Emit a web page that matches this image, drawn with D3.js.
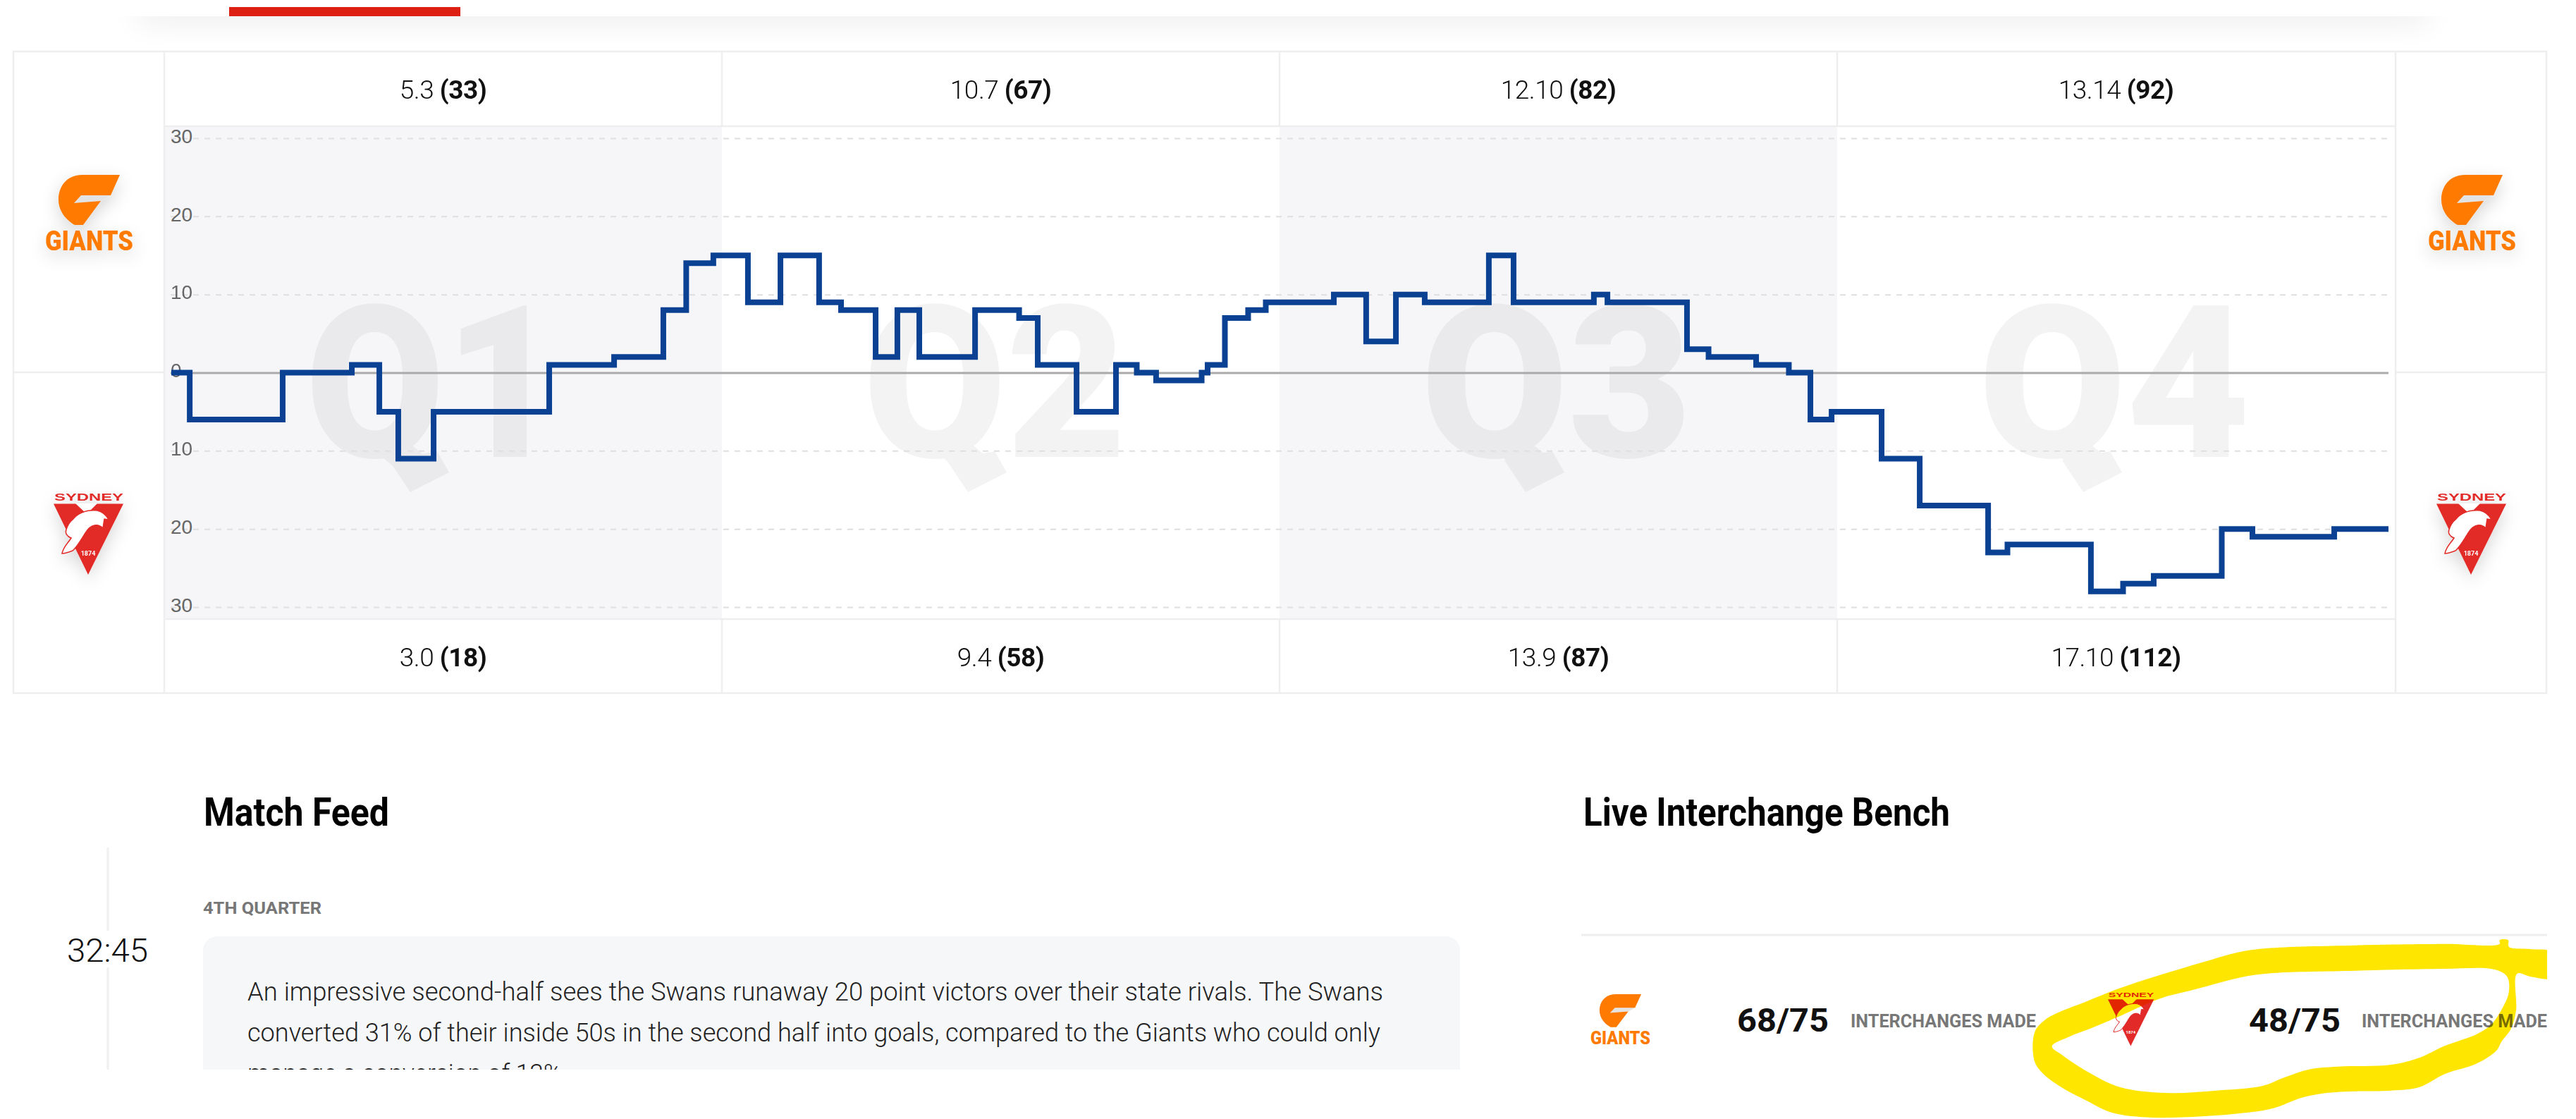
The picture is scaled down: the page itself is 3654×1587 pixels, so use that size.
<!DOCTYPE html>
<html>
<head>
<meta charset="utf-8">
<script src="https://cdn.jsdelivr.net/npm/d3@7"></script>
<style>
  html, body { margin: 0; background: #fff; }
  svg { display: block; }
  text { font-family: Roboto, "Open Sans", sans-serif; }
</style>
</head>
<body>
<div id="chart"></div>
<script>
const FWIDTH = 3654,
    FHEIGHT = 1587;

// minutes on a 30 min per quarter axis, margin from that moment on (+ Giants, - Swans)
const times = [0.38, 1.37, 6.37, 10.09, 11.57, 12.59, 14.49, 20.71, 24.2, 26.85, 28.08, 29.54, 31.4, 33.15,
    35.23, 36.41, 38.27, 39.44, 40.62, 43.62, 45.99, 46.99, 49.08, 51.2, 52.32, 53.36, 55.81, 56.13, 57.06,
    58.31, 59.26, 62.92, 64.66, 66.26, 67.81, 71.26, 72.59, 76.91, 77.64, 81.92, 83.08, 85.64, 87.4, 88.56,
    89.7, 92.39, 94.44, 98.12, 99.16, 103.65, 105.38, 107.03, 110.69, 112.34, 116.74, 119.66];
const margins = [0, -6, 0, 1, -5, -11, -5, 1, 2, 8, 14, 15, 9, 15,
    9, 8, 2, 8, 2, 8, 7, 1, -5, 1, 0, -1, 0, 1, 7,
    8, 9, 10, 4, 10, 9, 15, 9, 10, 9, 3, 2, 1, 0, -6,
    -5, -11, -17, -23, -22, -28, -27, -26, -20, -21, -20, -20];
const quarters = ["Q1", "Q2", "Q3", "Q4"];
const giantsGoals = ["5.3", "10.7", "12.10", "13.14"];
const giantsScores = ["(33)", "(67)", "(82)", "(92)"];
const swansGoals = ["3.0", "9.4", "13.9", "17.10"];
const swansScores = ["(18)", "(58)", "(87)", "(112)"];
const yTicks = [30, 20, 10, 0, -10, -20, -30];
const feedLines = [
    "An impressive second-half sees the Swans runaway 20 point victors over their state rivals. The Swans",
    "converted 31% of their inside 50s in the second half into goals, compared to the Giants who could only",
    "manage a conversion of 13%"
];

// highlighter scribble, traced in a 1568 wide crop of the bottom right corner
const scribbleOuter = [[1500, 92], [1440, 78], [1380, 68], [1378, 40], [1354, 40], [1354, 56], [1200, 56], [950, 62],
    [700, 75], [620, 92], [520, 135], [400, 190], [280, 250], [190, 305], [130, 340], [80, 380], [52, 430], [50, 550],
    [70, 600], [120, 660], [200, 725], [270, 775], [380, 795], [520, 790], [640, 775], [720, 755], [800, 710], [870, 690],
    [950, 683], [1050, 680], [1130, 665], [1200, 610], [1290, 565], [1345, 510], [1360, 470], [1385, 420], [1400, 340],
    [1403, 183], [1440, 195], [1500, 200]];
const scribbleInner = [[100, 492], [150, 450], [210, 415], [280, 370], [400, 290], [500, 250], [640, 195], [720, 180],
    [950, 170], [1200, 162], [1340, 165], [1375, 195], [1380, 260], [1365, 320], [1330, 400], [1290, 440], [1200, 490],
    [1130, 540], [1050, 570], [900, 578], [820, 590], [750, 625], [690, 660], [560, 680], [420, 690], [290, 665],
    [200, 600], [130, 530]];

const x = d3.scaleLinear().domain([0, 120]).range([233, 3397]);
const y = d3.scaleLinear().domain([30, -30]).range([196, 861]);
const scribbleX = d3.scaleLinear().domain([0, 1568]).range([2860, 3654]);
const scribbleY = d3.scaleLinear().domain([0, 801]).range([1320, 1587]);

const LINE_COL = "#eeeeee",
    GREY_TEXT = "#777777",
    ORANGE = "#ff7a00",
    RED = "#e22a28";

const svg = d3.select("#chart").append("svg")
    .attr("width", FWIDTH)
    .attr("height", FHEIGHT);

const defs = svg.append("defs");
defs.append("filter").attr("id", "barBlur")
    .attr("x", "-5%").attr("y", "-200%").attr("width", "110%").attr("height", "500%")
    .append("feGaussianBlur").attr("stdDeviation", 22);
defs.append("filter").attr("id", "logoShadow")
    .attr("x", "-40%").attr("y", "-40%").attr("width", "180%").attr("height", "180%")
    .append("feDropShadow")
    .attr("dx", 0).attr("dy", 8).attr("stdDeviation", 12)
    .attr("flood-color", "#000").attr("flood-opacity", 0.16);
defs.append("clipPath").attr("id", "belowBar").append("rect")
    .attr("x", 0).attr("y", 23).attr("width", FWIDTH).attr("height", 49);
defs.append("clipPath").attr("id", "feedClip").append("rect")
    .attr("x", 0).attr("y", 1190).attr("width", 2200).attr("height", 327);
defs.append("clipPath").attr("id", "benchClip").append("rect")
    .attr("x", 2200).attr("y", 1300).attr("width", 1413).attr("height", 287);
defs.append("clipPath").attr("id", "scribbleClip").append("path")
    .attr("d", "M2000,1300H3613V1587H2000Z");

// top nav shadow and the red tab
svg.append("g").attr("clip-path", "url(#belowBar)")
    .append("rect")
    .attr("x", 195).attr("y", 0).attr("width", 3250).attr("height", 30)
    .attr("fill", "#000").attr("opacity", 0.085)
    .attr("filter", "url(#barBlur)");
svg.append("rect")
    .attr("x", 325).attr("y", 10).attr("width", 328).attr("height", 13)
    .attr("fill", "#de1f13");

// quarter shading
const quarterG = svg.append("g");
quarterG.selectAll("rect")
    .data([0, 2])
    .join("rect")
    .attr("x", (d) => x(d * 30))
    .attr("y", 179)
    .attr("width", x(30) - x(0))
    .attr("height", 878 - 179)
    .attr("fill", "#f6f6f9");

// table lines
const tableLines = svg.append("g")
    .attr("stroke", LINE_COL)
    .attr("stroke-width", 2.5)
    .attr("fill", "none");
tableLines.append("rect").attr("x", 19).attr("y", 73).attr("width", 3593).attr("height", 910);
tableLines.append("path").attr("d", `M233,73V983 M3398,73V983 M233,179H3397 M233,878H3397 M19,528H233 M3398,528H3612`);
tableLines.selectAll(".col")
    .data([1, 2, 3])
    .join("path")
    .attr("class", "col")
    .attr("d", (d) => `M${x(d * 30)},73V179 M${x(d * 30)},878V983`);

// big quarter watermarks
const markWidths = [363, 374, 385, 386];
const marks = svg.append("g").attr("fill", "#000").attr("opacity", 0.05);
const mark = marks.selectAll("g")
    .data(quarters)
    .join("g")
    .attr("transform", (d, i) => `translate(${x(i * 30)},0)`);
mark.append("text")
    .text((d) => d)
    .attr("x", 200)
    .attr("y", 648)
    .attr("font-size", 302)
    .attr("font-weight", 900)
    .attr("textLength", (d, i) => markWidths[i])
    .attr("lengthAdjust", "spacingAndGlyphs");
mark.append("path").attr("d", "M319,653L349,698L404,670L387,640Z");

// y axis with the dashed grid
const yAxis = d3.axisRight(y)
    .tickValues(yTicks)
    .tickFormat((d) => Math.abs(d))
    .tickSize(3388 - 242);
const axisG = svg.append("g")
    .attr("transform", "translate(242,0)")
    .call(yAxis);
axisG.select(".domain").remove();
axisG.selectAll(".tick line")
    .attr("stroke", (d) => (d === 0 ? "#aaaaaa" : "#dfdfdf"))
    .attr("stroke-width", (d) => (d === 0 ? 3 : 2))
    .attr("stroke-dasharray", (d) => (d === 0 ? null : "8,8"))
    .attr("opacity", 1);
axisG.selectAll(".tick text")
    .attr("x", 0)
    .attr("dy", "0.22em")
    .attr("text-anchor", "start")
    .attr("fill", "#666666")
    .attr("font-size", 28)
    .style("font-family", "'Liberation Sans', Arial, sans-serif");

// margin worm
const worm = d3.line()
    .x((d, i) => x(times[i]))
    .y((d) => y(d))
    .curve(d3.curveStepAfter);
svg.append("path")
    .datum(margins)
    .attr("d", worm)
    .attr("fill", "none")
    .attr("stroke", "#0b4192")
    .attr("stroke-width", 8)
    .attr("stroke-linejoin", "miter");

// quarter by quarter scores
function scoreRow(goals, scores, baseline) {
    const t = svg.append("g").selectAll("text")
        .data(goals)
        .join("text")
        .attr("x", (d, i) => x(i * 30 + 15))
        .attr("y", baseline)
        .attr("text-anchor", "middle")
        .attr("font-size", 37)
        .attr("letter-spacing", -0.5)
        .attr("fill", "#111");
    t.append("tspan").attr("font-weight", 300).text((d) => d + " ");
    t.append("tspan").attr("font-weight", 700).text((d, i) => scores[i]);
}
scoreRow(giantsGoals, giantsScores, 140);
scoreRow(swansGoals, swansScores, 945);

// club logos, local origin at their top left
function drawGiants(g) {
    g.append("path")
        .attr("d", "M41,40L51,29L93,29L79,37Z")
        .attr("fill", "#e3e3e3");
    g.append("path")
        .attr("d", "M106,0L53,0C30,0 19,17 19,35C19,52 30,64 42,71L54,71L79,37L41,40L51,29L93,29Z")
        .attr("fill", ORANGE);
    g.append("text")
        .text("GIANTS")
        .attr("x", 0).attr("y", 107)
        .attr("font-size", 39).attr("font-weight", 900)
        .attr("textLength", 125).attr("lengthAdjust", "spacingAndGlyphs")
        .attr("fill", ORANGE);
}
function drawSwans(g) {
    g.append("text")
        .text("SYDNEY")
        .attr("x", 1).attr("y", 11)
        .attr("font-size", 15).attr("font-weight", 700)
        .attr("textLength", 98).attr("lengthAdjust", "spacingAndGlyphs")
        .attr("fill", RED)
        .style("font-family", "'Liberation Sans', sans-serif");
    g.append("path")
        .attr("d", "M0,15.5L99,15.5L49,116Z")
        .attr("fill", RED);
    g.append("path")
        .attr("d", "M31,15L62,15L47,30Z")
        .attr("fill", "#fff");
    g.append("path")
        .attr("d", "M12,86C14,76 20,72 25,64C19,62 16,57 18,52C20,46 23,41 27,38C35,28 48,24 62,25C70,27 75,32 78,38L72,37L70,50C66,46 62,45 58,46C52,47 48,52 45,57C39,67 32,78 27,82C22,84 16,86 12,86Z")
        .attr("fill", "#fff")
        .attr("stroke", RED)
        .attr("stroke-width", 1.5);
    g.append("text")
        .text("1874")
        .attr("x", 49).attr("y", 89)
        .attr("text-anchor", "middle")
        .attr("font-size", 9).attr("font-weight", 700)
        .attr("fill", "#fff");
}
[[64, 248], [3444, 248]].forEach(([tx, ty]) => {
    drawGiants(svg.append("g").attr("transform", `translate(${tx},${ty})`).attr("filter", "url(#logoShadow)"));
});
[[76, 699], [3456, 699]].forEach(([tx, ty]) => {
    drawSwans(svg.append("g").attr("transform", `translate(${tx},${ty})`).attr("filter", "url(#logoShadow)"));
});
drawGiants(svg.append("g").attr("transform", "translate(2256,1410) scale(0.68,0.66)"));
drawSwans(svg.append("g").attr("transform", "translate(2990,1407) scale(0.66)"));

// section headings
function heading(str, px, w) {
    svg.append("text")
        .text(str)
        .attr("x", px).attr("y", 1171)
        .attr("font-size", 56).attr("font-weight", 700)
        .attr("textLength", w).attr("lengthAdjust", "spacingAndGlyphs")
        .attr("fill", "#000");
}
heading("Match Feed", 289, 263);
heading("Live Interchange Bench", 2246, 520);

// match feed
const feed = svg.append("g").attr("clip-path", "url(#feedClip)");
feed.append("path")
    .attr("d", "M153,1202V1320 M153,1372V1517")
    .attr("stroke", "#f0f0f0").attr("stroke-width", 3);
feed.append("rect")
    .attr("x", 288).attr("y", 1328).attr("width", 1783).attr("height", 300).attr("rx", 20)
    .attr("fill", "#f6f7f9");
feed.append("text")
    .text("4TH QUARTER")
    .attr("x", 288).attr("y", 1296)
    .attr("font-size", 24).attr("font-weight", 700)
    .attr("textLength", 168).attr("lengthAdjust", "spacingAndGlyphs")
    .attr("fill", GREY_TEXT);
feed.append("text")
    .text("32:45")
    .attr("x", 95).attr("y", 1364)
    .attr("font-size", 46).attr("font-weight", 300)
    .attr("textLength", 115).attr("lengthAdjust", "spacingAndGlyphs")
    .attr("fill", "#111");
const feedWidths = [1611, 1607, 446];
feed.selectAll(".feedLine")
    .data(feedLines)
    .join("text")
    .attr("class", "feedLine")
    .text((d) => d)
    .attr("x", 351)
    .attr("y", (d, i) => 1419 + i * 58)
    .attr("font-size", 37).attr("font-weight", 300)
    .attr("textLength", (d, i) => feedWidths[i]).attr("lengthAdjust", "spacingAndGlyphs")
    .attr("fill", "#222");

// interchange bench
svg.append("path").attr("d", "M2243,1326H3613").attr("stroke", LINE_COL).attr("stroke-width", 3);
const bench = svg.append("g").attr("clip-path", "url(#benchClip)");
const benchCounts = ["68/75", "48/75"];
bench.selectAll(".count")
    .data(benchCounts)
    .join("text")
    .attr("class", "count")
    .text((d) => d)
    .attr("x", (d, i) => [2464, 3190][i])
    .attr("y", 1463)
    .attr("font-size", 47).attr("font-weight", 700)
    .attr("textLength", 130).attr("lengthAdjust", "spacingAndGlyphs")
    .attr("fill", "#111");
bench.selectAll(".made")
    .data(benchCounts)
    .join("text")
    .attr("class", "made")
    .text("INTERCHANGES MADE")
    .attr("x", (d, i) => [2625, 3350][i])
    .attr("y", 1457)
    .attr("font-size", 25).attr("font-weight", 700)
    .attr("textLength", 263).attr("lengthAdjust", "spacingAndGlyphs")
    .attr("fill", GREY_TEXT);

// yellow highlighter on top of it all
const scribbleLine = d3.line()
    .x((d) => scribbleX(d[0]))
    .y((d) => scribbleY(d[1]))
    .curve(d3.curveCatmullRomClosed.alpha(0.5));
svg.append("path")
    .attr("d", scribbleLine(scribbleOuter) + scribbleLine(scribbleInner))
    .attr("fill", "#ffe600")
    .attr("fill-rule", "evenodd")
    .attr("clip-path", "url(#scribbleClip)")
    .style("mix-blend-mode", "multiply");
</script>
</body>
</html>
